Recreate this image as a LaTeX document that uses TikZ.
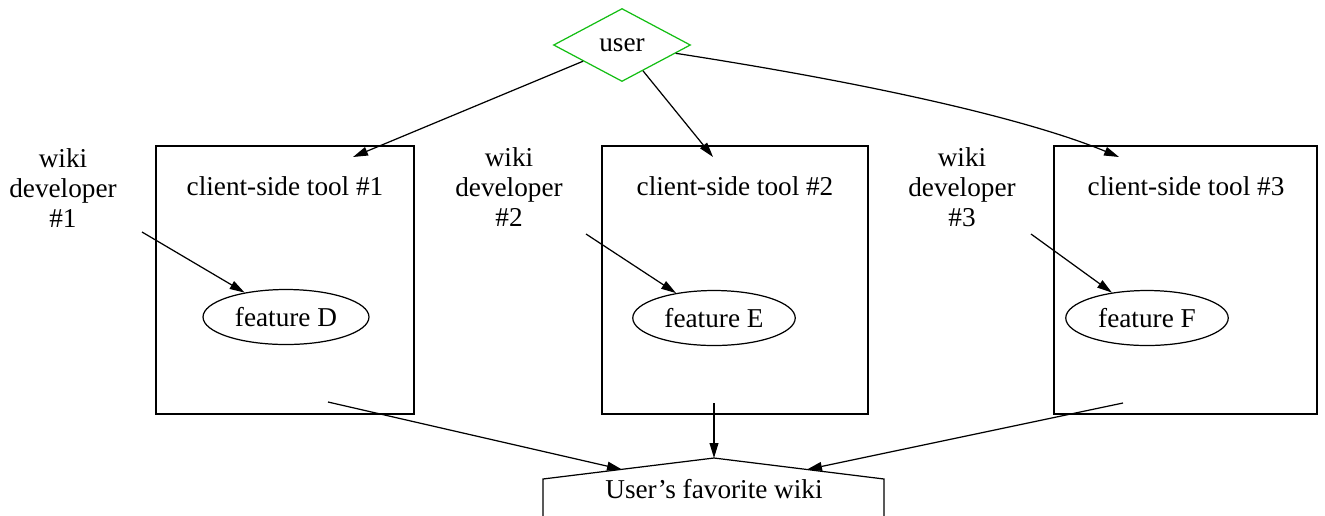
\documentclass[tikz,border=0pt]{standalone}
\usepackage{fontspec}
\setmainfont{Liberation Serif}
\usepackage{xcolor}
\usepackage{tikz}
\usetikzlibrary{shapes,arrows,positioning,calc,arrows.meta}
\definecolor{usergreen}{RGB}{20,190,20}

\begin{document}
\begin{tikzpicture}[x=0.02cm, y=-0.02cm,
    font=\fontsize{15.5}{17}\selectfont,
    line width=0.7pt,
    link/.style={-{Triangle[length=8.5pt,width=5pt]}},
    toolbox/.style={draw, rectangle, minimum height=5.36cm, inner sep=0pt},
    feature/.style={draw, ellipse, minimum width=3.25cm, minimum height=1.1cm, inner sep=0pt},
    dev/.style={align=center}]
    \useasboundingbox (0,0) rectangle (1325,515);
    \clip (0,0) rectangle (1325,515);

    % User
    \node[draw=usergreen, diamond, minimum width=2.74cm, minimum height=1.46cm, inner sep=0pt] (user) at (622,45) {user};

    % Client-side tools
    \node[toolbox, minimum width=5.16cm] (tool1) at (285,280) {};
    \node[toolbox, minimum width=5.32cm] (tool2) at (735,280) {};
    \node[toolbox, minimum width=5.26cm] (tool3) at (1185.5,280) {};
    \node (title1) at (285,186) {client-side tool \#1};
    \node (title2) at (735,186) {client-side tool \#2};
    \node (title3) at (1186,186) {client-side tool \#3};

    % Features
    \node[feature, minimum width=3.32cm] (feat1) at (286,317) {feature D};
    \node[feature] (feat2) at (714,318) {feature E};
    \node[feature] (feat3) at (1147,318) {feature F};

    % Developers
    \node[dev] (dev1) at (63,188) {wiki\\developer\\\#1};
    \node[dev] (dev2) at (509,187) {wiki\\developer\\\#2};
    \node[dev] (dev3) at (962,187) {wiki\\developer\\\#3};
    \coordinate (d1s) at (142,232);
    \coordinate (d2s) at (586,234);
    \coordinate (d3s) at (1031,234);
    \draw[link] (d1s) -- (feat1);
    \draw[link] (d2s) -- (feat2);
    \draw[link] (d3s) -- (feat3);

    % User to tools
    \coordinate (t1in) at (353,157);
    \coordinate (t2in) at (713,157);
    \coordinate (t3in) at (1119,157);
    \draw[link] (user) -- (t1in);
    \draw[link] (user) -- (t2in);
    \draw[link] (user) .. controls (900,88) and (1040,124) .. (t3in);

    % Favorite wiki
    \draw (543,530) -- (543,479) -- (714,458) -- (884,479) -- (884,530);
    \node (wiki) at (714,489) {User's favorite wiki};
    \coordinate (wikiL) at (622,469.5);
    \coordinate (wikiTop) at (714,458);
    \coordinate (wikiR) at (807,469.5);

    % Tools to wiki
    \coordinate (b1s) at (328,402);
    \coordinate (b2s) at (714,403);
    \coordinate (b3s) at (1123,403);
    \draw[link] (b1s) -- (wikiL);
    \draw[link] (b2s) -- (wikiTop);
    \draw[link] (b3s) -- (wikiR);

\end{tikzpicture}
\end{document}
